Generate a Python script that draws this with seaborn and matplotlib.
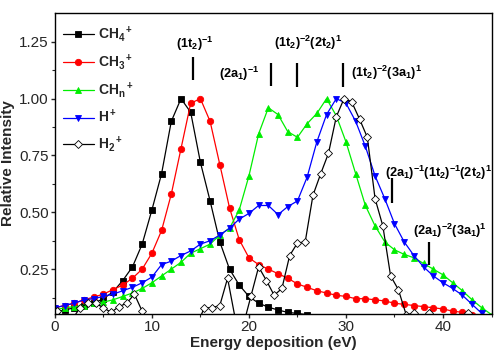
import numpy as np
import pandas as pd
import matplotlib
matplotlib.use("Agg")
import matplotlib.pyplot as plt
import seaborn as sns

# ---- data ----
ch4_x = list(range(0, 27))
ch4_y = [0.06, 0.07, 0.08, 0.09, 0.10, 0.12, 0.15, 0.20, 0.26, 0.36,
         0.51, 0.67, 0.90, 1.00, 0.94, 0.72, 0.55, 0.37, 0.25, 0.18,
         0.13, 0.10, 0.083, 0.07, 0.06, 0.055, 0.05]

ch3_x = list(range(0, 44))
ch3_y = [0.08, 0.09, 0.10, 0.115, 0.127, 0.14, 0.16, 0.18, 0.21, 0.25,
         0.32, 0.42, 0.58, 0.78, 0.98, 1.00, 0.90, 0.71, 0.52, 0.38,
         0.30, 0.27, 0.25, 0.23, 0.21, 0.185, 0.17, 0.155, 0.145, 0.135,
         0.13, 0.12, 0.12, 0.115, 0.11, 0.10, 0.095, 0.09, 0.085, 0.08,
         0.075, 0.065, 0.06, 0.05]

chn_x = list(range(0, 46))
chn_y = [0.07, 0.08, 0.085, 0.09, 0.10, 0.105, 0.115, 0.13, 0.145, 0.165,
         0.19, 0.22, 0.25, 0.28, 0.32, 0.34, 0.36, 0.40, 0.43, 0.51,
         0.66, 0.845, 0.96, 0.93, 0.855, 0.83, 0.89, 0.935, 1.00, 0.925,
         0.81, 0.67, 0.53, 0.44, 0.37, 0.335, 0.315, 0.30, 0.275, 0.25,
         0.225, 0.19, 0.155, 0.115, 0.08, 0.05]

h_x = list(range(0, 45))
h_y = [0.08, 0.09, 0.10, 0.115, 0.12, 0.13, 0.14, 0.155, 0.17, 0.19,
       0.215, 0.27, 0.285, 0.31, 0.33, 0.36, 0.375, 0.40, 0.43, 0.47,
       0.495, 0.53, 0.53, 0.49, 0.525, 0.55, 0.655, 0.81, 0.93, 1.00,
       0.98, 0.90, 0.79, 0.66, 0.56, 0.45, 0.37, 0.31, 0.26, 0.22,
       0.19, 0.165, 0.135, 0.095, 0.055]

h2_x = [0.2, 1.0, 1.8, 2.6, 3.4, 4.2, 5.0, 5.8, 6.6, 7.4, 8.2, 9.0, 9.8,
        10.6, 11.4, 12.2, 13.0, 13.8, 14.6, 15.4, 16.2, 17.0, 17.8, 18.6,
        19.4, 20.2, 21.0, 21.8, 22.6, 23.4, 24.2, 25.0, 25.8, 26.6, 27.4,
        28.2, 29.0, 29.8, 30.6, 31.4, 32.2, 33.0, 33.8, 34.6, 35.4, 36.2,
        37.0, 37.8, 38.6, 39.4, 40.2, 41.0, 41.8, 42.6, 43.4]
h2_y = [0.065, 0.03, 0.03, 0.08, 0.10, 0.10, 0.08, 0.06, 0.085, 0.10,
        0.14, 0.065, 0.0, 0.0, 0.0, 0.0, 0.0, 0.0, 0.0, 0.08,
        0.08, 0.09, 0.21, 0.03, 0.0, 0.13, 0.26, 0.20, 0.135, 0.165,
        0.31, 0.365, 0.37, 0.575, 0.67, 0.76, 0.92, 1.00, 0.985, 0.91,
        0.83, 0.56, 0.44, 0.22, 0.16, 0.05, 0.055, 0.03, 0.055, 0.03,
        0.03, 0.03, 0.03, 0.055, 0.03]

labels = [r'$\mathbf{CH_4{}^+}$', r'$\mathbf{CH_3{}^+}$', r'$\mathbf{CH_n{}^+}$',
          r'$\mathbf{H^+}$', r'$\mathbf{H_2{}^+}$']

ann_text = [r'$\mathbf{(1t_2)^{-1}}$', r'$\mathbf{(2a_1)^{-1}}$',
            r'$\mathbf{(1t_2)^{-2}(2t_2)^1}$', r'$\mathbf{(1t_2)^{-2}(3a_1)^1}$',
            r'$\mathbf{(2a_1)^{-1}(1t_2)^{-1}(2t_2)^1}$', r'$\mathbf{(2a_1)^{-2}(3a_1)^1}$']
ann_tx = [14.4, 19.0, 26.1, 30.5, 34.0, 36.9]
ann_ty = [1.241, 1.11, 1.245, 1.114, 0.675, 0.42]
ann_ha = ['center', 'center', 'center', 'left', 'left', 'left']
tick_x = [14.25, 22.3, 25.0, 29.7, 34.7, 38.6]
tick_y0 = [1.083, 1.057, 1.053, 1.053, 0.54, 0.27]
tick_y1 = [1.184, 1.158, 1.158, 1.158, 0.65, 0.37]

# ---- style ----
sns.set_style("ticks")
plt.rcParams['font.family'] = ['Liberation Sans', 'DejaVu Sans']
plt.rcParams['mathtext.fontset'] = 'custom'
plt.rcParams['mathtext.rm'] = 'Liberation Sans'
plt.rcParams['mathtext.bf'] = 'Liberation Sans:bold'
plt.rcParams['mathtext.it'] = 'Liberation Sans:italic'

fig = plt.figure(figsize=(4.94, 3.60), dpi=100)
ax = fig.add_axes([0.111, 0.128, 0.884, 0.836])

series = [
    (ch4_x, ch4_y, 'black', 's', 'black'),
    (ch3_x, ch3_y, '#ff0000', 'o', '#ff0000'),
    (chn_x, chn_y, '#00ee00', '^', '#00ee00'),
    (h_x, h_y, '#0000ff', 'v', '#0000ff'),
    (h2_x, h2_y, 'black', 'D', 'white'),
]
for (xs, ys, col, mk, fc), lab in zip(series, labels):
    df = pd.DataFrame({'x': xs, 'y': ys})
    sns.lineplot(data=df, x='x', y='y', ax=ax, color=col, lw=0.9,
                 marker=mk, markersize=4.6 if mk != 'D' else 3.8,
                 markerfacecolor=fc, markeredgecolor=col if mk != 'D' else 'black',
                 markeredgewidth=0.6, label=lab, sort=False)

for tx, ty, t, ha in zip(ann_tx, ann_ty, ann_text, ann_ha):
    ax.text(tx, ty, t, ha=ha, va='center', fontsize=9.2, color='black')
ax.vlines(tick_x, tick_y0, tick_y1, colors='black', lw=1.6)

ax.set_xlim(0, 45)
ax.set_ylim(0.053, 1.377)
ax.set_xticks([0, 10, 20, 30, 40])
ax.set_xticks([5, 15, 25, 35, 45], minor=True)
ax.set_yticks([0.25, 0.50, 0.75, 1.00, 1.25])
ax.set_yticks([0.125, 0.375, 0.625, 0.875, 1.125], minor=True)
ax.set_yticklabels(['0.25', '0.50', '0.75', '1.00', '1.25'])
ax.tick_params(axis='both', which='major', labelsize=11, length=3, width=1,
               direction='out', pad=1.5)
ax.tick_params(axis='both', which='minor', length=2, width=0.8, direction='out')
for s in ax.spines.values():
    s.set_linewidth(1.0)
    s.set_color('black')
ax.set_xlabel('Energy deposition (eV)', fontsize=11, fontweight='bold', labelpad=1)
ax.set_ylabel('Relative Intensity', fontsize=11, fontweight='bold', labelpad=2.5)

leg = ax.legend(loc='upper left', frameon=False, fontsize=10, handlelength=2.2,
                handletextpad=0.3, labelspacing=0.6, borderaxespad=0.2,
                bbox_to_anchor=(0.0, 0.99))

fig.savefig('out.png', dpi=100)
